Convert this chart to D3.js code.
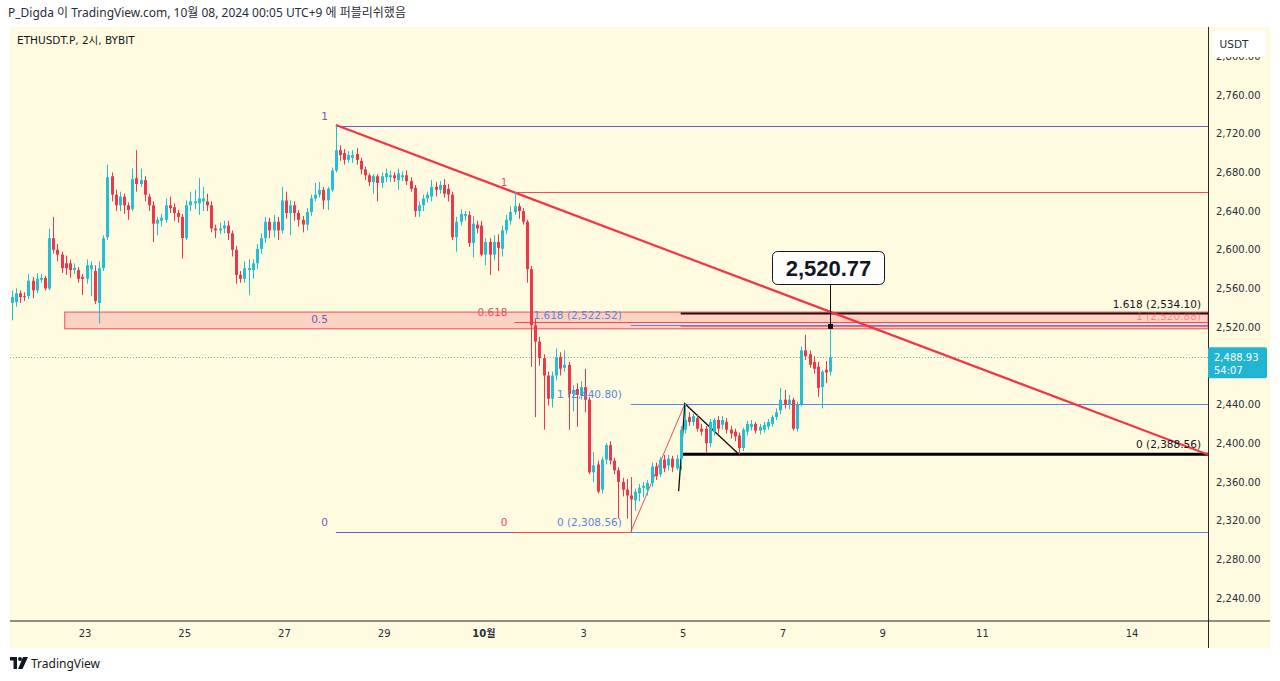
<!DOCTYPE html>
<html><head><meta charset="utf-8">
<script src="https://cdn.jsdelivr.net/npm/d3@7"></script>
<style>
body{margin:0;background:#fff;}
svg{display:block;font-family:"DejaVu Sans","Noto Sans CJK KR",sans-serif;}
</style>
</head><body>
<svg id="chart" width="1280" height="681"></svg>
<script>
// ---------- DATA (2h candles, ETHUSDT.P, times in UTC+9) ----------
const firstBar = "2024-09-21T13:00";   // time of the first visible candle
const barHours = 2;
const opens = [2545,2546,2555,2552,2552,2568,2558,2569,2571,2560,2612,2600,2595,2586,2586,2579,2579,2572,2570,2580,
2578,2545,2581,2613,2676,2657,2646,2655,2646,2642,2674,2668,2672,2655,2646,2627,2630,2631,2646,2644,
2638,2634,2612,2646,2648,2648,2650,2650,2646,2622,2620,2622,2625,2617,2600,2574,2570,2579,2579,2586,
2601,2612,2629,2620,2629,2620,2651,2638,2646,2638,2631,2626,2639,2653,2657,2662,2651,2662,2682,2703,
2700,2693,2695,2699,2692,2683,2677,2670,2676,2669,2675,2675,2677,2672,2675,2677,2671,2664,2640,2646,
2653,2655,2665,2662,2667,2663,2657,2613,2629,2635,2636,2607,2626,2625,2595,2608,2595,2608,2601,2620,
2630,2639,2645,2640,2629,2580,2522,2505,2488,2470,2446,2470,2489,2478,2481,2451,2456,2449,2458,2445,
2370,2378,2352,2383,2398,2382,2372,2360,2352,2346,2341,2348,2354,2352,2359,2376,2368,2383,2377,2384,
2374,2384,2414,2427,2422,2426,2415,2415,2400,2412,2424,2419,2422,2414,2412,2408,2395,2412,2417,2420,
2413,2414,2417,2420,2427,2434,2445,2440,2445,2415,2440,2496,2492,2484,2479,2458,2476,2474];
const highs = [2558,2560,2558,2556,2575,2572,2576,2575,2573,2622,2634,2606,2598,2594,2590,2586,2582,2575,2590,2588,
2584,2588,2615,2688,2680,2662,2660,2658,2649,2684,2703,2684,2676,2658,2650,2634,2637,2653,2655,2648,
2641,2637,2651,2660,2662,2674,2665,2658,2650,2626,2628,2630,2630,2620,2604,2578,2588,2590,2590,2606,
2617,2634,2633,2636,2634,2665,2660,2651,2650,2641,2635,2643,2657,2669,2670,2665,2665,2685,2728,2708,
2704,2702,2703,2705,2695,2686,2679,2678,2678,2680,2684,2682,2680,2684,2681,2682,2675,2667,2650,2657,
2660,2672,2670,2671,2673,2668,2660,2634,2642,2640,2640,2635,2630,2630,2612,2612,2615,2616,2625,2636,
2645,2660,2648,2643,2631,2583,2529,2510,2492,2474,2474,2498,2494,2496,2484,2460,2462,2464,2477,2448,
2391,2382,2386,2400,2402,2385,2375,2364,2363,2365,2353,2358,2360,2362,2380,2380,2386,2388,2388,2387,
2388,2418,2440.8,2432,2431,2430,2420,2418,2425,2426,2428,2428,2426,2418,2415,2411,2416,2423,2424,2422,
2420,2422,2425,2429,2436,2457,2455,2450,2447,2443,2500,2512,2496,2490,2484,2476,2485,2520.77];
const lows = [2527,2541,2545,2547,2549,2550,2555,2566,2558,2558,2596,2588,2576,2574,2571,2575,2566,2553,2565,2552,
2544,2524,2578,2610,2650,2640,2640,2637,2631,2640,2660,2665,2650,2640,2608,2615,2624,2628,2638,2630,
2628,2591,2610,2640,2642,2636,2640,2640,2618,2612,2616,2617,2610,2593,2565,2566,2566,2553,2570,2580,
2596,2607,2612,2613,2610,2617,2632,2615,2630,2624,2618,2620,2635,2650,2654,2642,2641,2660,2680,2692,
2688,2690,2690,2688,2678,2672,2666,2658,2650,2664,2670,2670,2670,2662,2671,2667,2660,2634,2634,2640,
2649,2650,2655,2658,2654,2650,2610,2598,2625,2630,2603,2592,2617,2593,2584,2574,2589,2578,2593,2616,
2626,2636,2632,2626,2566,2479,2427,2480,2414,2439,2437,2465,2470,2474,2414,2433,2417,2445,2432,2368,
2360,2348,2348,2378,2378,2368,2322,2345,2322,2308.56,2330,2340,2344,2346,2355,2362,2365,2370,2372,2370,
2372,2372,2410,2418,2418,2412,2408,2390,2396,2408,2410,2414,2410,2405,2402,2388.56,2392,2408,2413,2410,
2409,2411,2414,2417,2424,2430,2436,2435,2413,2412,2438,2486,2478,2472,2448,2436,2462,2470];
const closes = [2551,2555,2551,2551,2568,2558,2570,2571,2560,2612,2600,2595,2581,2581,2579,2581,2570,2570,2584,2584,
2547,2581,2612,2675,2657,2646,2655,2646,2641,2673,2668,2672,2657,2646,2627,2631,2633,2646,2643,2638,
2634,2612,2646,2650,2650,2653,2653,2646,2622,2620,2622,2625,2617,2600,2574,2570,2581,2581,2586,2601,
2612,2629,2620,2629,2620,2651,2638,2646,2638,2631,2626,2639,2653,2657,2662,2651,2663,2682,2703,2698,
2693,2698,2698,2693,2683,2677,2670,2676,2669,2676,2679,2677,2674,2679,2677,2671,2663,2640,2646,2653,
2657,2665,2662,2667,2658,2657,2613,2629,2637,2637,2607,2627,2622,2595,2608,2595,2608,2602,2620,2631,
2639,2645,2640,2629,2580,2522,2505,2488,2470,2446,2470,2489,2477,2481,2451,2455,2450,2458,2445,2370,
2377,2350,2383,2398,2382,2372,2360,2352,2346,2342,2350,2354,2356,2359,2376,2366,2383,2374,2384,2375,
2384,2414,2424,2422,2428,2415,2412,2400,2422,2424,2415,2424,2414,2410,2407,2395,2414,2420,2420,2413,
2417,2419,2422,2427,2432,2445,2440,2445,2415,2440,2496,2490,2481,2477,2457,2474,2473,2488.93];

// 2,480 is hidden behind the last-price tag in the reference
const priceTicks = [2240,2280,2320,2360,2400,2440,2520,2560,2600,2640,2680,2720,2760,2800];
const dayTicks = ["2024-09-23","2024-09-25","2024-09-27","2024-09-29","2024-10-01","2024-10-03","2024-10-05","2024-10-07","2024-10-09","2024-10-11","2024-10-14"];
const dayLabels = ["23","25","27","29","10월","3","5","7","9","11","14"];
const lastPrice = 2488.93;
const countdown = "54:07";
const calloutPrice = 2520.77;

const fibPurple = [["1",2728],["0.5",2518.3],["0",2308.56]];
const fibRed    = [["1",2659.7],["0.618",2525.6],["0",2308.56]];
const fibBlue   = [["1.618",2522.52],["1",2440.80],["0",2308.56]];
const fibBlack  = [["1.618",2534.10],["0",2388.56]];
const fibPink   = [["1",2520.88]];
const zoneBand  = [2535.6, 2518.3];

// ---------- SETUP ----------
const T = s => { const [d,t] = s.split("T"); const [Y,M,D]=d.split("-").map(Number); const [h,m]=(t||"00:00").split(":").map(Number); return new Date(Date.UTC(Y,M-1,D,h,m)); };
const t0 = T(firstBar);
const bars = opens.map((o,i)=>({t:new Date(t0.getTime()+i*barHours*3600e3),o,h:highs[i],l:lows[i],c:closes[i]}));
const barT = i => bars[i].t;

const plot = {l:10, r:1208, t:27, b:621};
const svg = d3.select("#chart");
const x = d3.scaleUtc().domain([T("2024-09-23"),T("2024-10-14")]).range([84.5,1131.5]);
const y = d3.scaleLinear().domain([2240,2760]).range([598,95]);

const UP="#22BFD5", DN="#F0364A", PURP="#6A5CC4", REDL="#EE4C5A", BLUE="#5A86E0";

svg.append("rect").attr("x",10).attr("y",27).attr("width",1260).attr("height",621).attr("fill","#FFFBE1");
svg.append("text").attr("x",8).attr("y",17).attr("font-size",12).attr("fill","#2a2e39")
   .attr("font-family","'Noto Sans','Noto Sans CJK KR',sans-serif")
   .text("P_Digda 이 TradingView.com, 10월 08, 2024 00:05 UTC+9 에 퍼블리쉬했음");

const defs = svg.append("defs");
defs.append("clipPath").attr("id","pc").append("rect").attr("x",plot.l).attr("y",plot.t).attr("width",plot.r-plot.l).attr("height",plot.b-plot.t);
const g = svg.append("g").attr("clip-path","url(#pc)");

// zone band
const zx0 = x(T("2024-09-22T14:30"));
g.append("rect").attr("x",zx0).attr("y",y(zoneBand[0]))
 .attr("width",plot.r-zx0).attr("height",y(zoneBand[1])-y(zoneBand[0]))
 .attr("fill","rgba(242,54,69,0.2)").attr("stroke","#EE4C5A").attr("stroke-width",1);

// last price dotted line
g.append("line").attr("x1",plot.l).attr("x2",plot.r).attr("y1",Math.round(y(lastPrice))+0.5).attr("y2",Math.round(y(lastPrice))+0.5)
 .attr("stroke","#3fb59c").attr("stroke-dasharray","1,2").attr("stroke-width",1).attr("opacity",0.8);

function fib(levels, startIdx, color, lw){
  const xs = x(barT(startIdx));
  levels.forEach(([lab,p])=>{
    const yy = Math.round(y(p))+0.5;
    g.append("line").attr("x1",xs).attr("x2",plot.r).attr("y1",yy).attr("y2",yy).attr("stroke",color).attr("stroke-width",lw);
  });
}
function fibLabels(levels, xr, color, fmt){
  levels.forEach(([lab,p])=>{
    svg.append("text").attr("x",xr).attr("y",y(p)-6).attr("text-anchor","end")
      .attr("font-size",10.5).attr("fill",color).text(fmt?`${lab} (${d3.format(",.2f")(p)})`:lab);
  });
}
fib(fibPurple.filter(d=>d[0]!=="0.5"), 78, PURP, 1);
fib(fibRed, 121, REDL, 1);
fib(fibBlue, 149, BLUE, 1);
fib(fibPink, 161, "#E8707B", 1);
g.append("line").attr("x1",x(barT(161))).attr("x2",plot.r).attr("y1",y(fibBlack[0][1])).attr("y2",y(fibBlack[0][1])).attr("stroke","#2a0a0e").attr("stroke-width",2);
g.append("line").attr("x1",x(barT(161))).attr("x2",plot.r).attr("y1",y(fibBlack[1][1])).attr("y2",y(fibBlack[1][1])).attr("stroke","#000").attr("stroke-width",3);

fibLabels(fibPurple, x(barT(78))-8, PURP, false);
fibLabels(fibRed, x(barT(121))-7, REDL, false);
fibLabels(fibBlue, x(barT(149))-9, BLUE, true);
fibLabels(fibBlack, 1201, "#131722", true);
fibLabels(fibPink, 1201, "rgba(238,76,90,0.55)", true);

g.append("line").attr("x1",x(barT(149))).attr("y1",y(2308.56)).attr("x2",x(barT(162))).attr("y2",y(2440.8)).attr("stroke","#E0505C").attr("stroke-width",1);
const A=[T("2024-10-04T22:00"),2350.5], B=[barT(162),2440.8], C=[barT(175),2388.56];
g.append("path").attr("d",`M${x(A[0])},${y(A[1])}L${x(B[0])},${y(B[1])}L${x(C[0])},${y(C[1])}`)
 .attr("fill","none").attr("stroke","#111").attr("stroke-width",1.3);

const p1=[barT(78),2729], p2=[barT(121),2659.2];
const slope=(p2[1]-p1[1])/(p2[0]-p1[0]);
const tEnd = x.invert(plot.r);
const pEnd = p1[1]+slope*(tEnd-p1[0]);
g.append("line").attr("x1",x(p1[0])).attr("y1",y(p1[1])).attr("x2",x(tEnd)).attr("y2",y(pEnd))
 .attr("stroke","#F23645").attr("stroke-width",2.2);

const cg = g.append("g");
bars.forEach(d=>{
  const cx = Math.round(x(d.t));
  const col = d.c>=d.o?UP:DN;
  cg.append("line").attr("x1",cx+0.5).attr("x2",cx+0.5).attr("y1",y(d.h)).attr("y2",y(d.l)).attr("stroke",col).attr("stroke-width",1);
  const top=y(Math.max(d.o,d.c)), bot=y(Math.min(d.o,d.c));
  cg.append("rect").attr("x",cx-1).attr("width",3).attr("y",top).attr("height",Math.max(1,bot-top)).attr("fill",col);
});

// callout
const cxL = Math.round(x(barT(197)))+0.5;
svg.append("line").attr("x1",cxL).attr("x2",cxL).attr("y1",285).attr("y2",y(calloutPrice)).attr("stroke","#111").attr("stroke-width",1);
svg.append("rect").attr("x",cxL-2.5).attr("y",y(calloutPrice)-2.5).attr("width",5).attr("height",5).attr("fill","#111");
svg.append("rect").attr("x",772.5).attr("y",251.5).attr("width",112).attr("height",33).attr("rx",5)
 .attr("fill","#fff").attr("stroke","#131722").attr("stroke-width",1);
svg.append("text").attr("x",828.5).attr("y",276).attr("text-anchor","middle").attr("font-size",22).attr("font-weight","bold")
 .attr("fill","#131722").attr("font-family","'Liberation Sans',Arial,sans-serif").text(d3.format(",.2f")(calloutPrice));

svg.append("line").attr("x1",10).attr("x2",1270).attr("y1",621).attr("y2",621).attr("stroke","#8e8e80").attr("stroke-width",2);
svg.append("line").attr("x1",1208.5).attr("x2",1208.5).attr("y1",27).attr("y2",648).attr("stroke","#2a2a2a").attr("stroke-width",1);

const yAxis = d3.axisRight(y).tickValues(priceTicks).tickSize(0).tickPadding(8).tickFormat(d3.format(",.2f"));
const ya = svg.append("g").attr("transform","translate(1208,0)").call(yAxis);
ya.select(".domain").remove();
ya.selectAll("text").attr("font-size",10).attr("fill","#2a2e39").attr("font-family","'DejaVu Sans',sans-serif");

const xAxis = d3.axisBottom(x).tickValues(dayTicks.map(T)).tickSize(0).tickPadding(9).tickFormat((d,i)=>dayLabels[i]);
const xa = svg.append("g").attr("transform","translate(0,621)").call(xAxis);
xa.select(".domain").remove();
xa.selectAll("text").attr("font-size",10).attr("fill","#2a2e39").attr("font-family","'DejaVu Sans','Noto Sans CJK KR',sans-serif")
  .attr("font-weight",(d,i)=>dayLabels[i]==="10월"?"bold":null);

// USDT box
svg.append("rect").attr("x",1212).attr("y",31).attr("width",54).attr("height",26).attr("rx",4).attr("fill","#fff");
svg.append("text").attr("x",1234).attr("y",48).attr("text-anchor","middle").attr("font-size",10.5).attr("fill","#2a2e39").text("USDT");

// price tag
const ty = y(lastPrice);
svg.append("rect").attr("x",1208).attr("y",ty-10).attr("width",59).attr("height",31).attr("rx",2).attr("fill","#22B5D1");
svg.append("text").attr("x",1214).attr("y",ty+3.5).attr("font-size",10).attr("fill","#fff").text(d3.format(",.2f")(lastPrice));
svg.append("text").attr("x",1214).attr("y",ty+16.5).attr("font-size",10).attr("fill","#fff").text(countdown);

svg.append("text").attr("x",17).attr("y",44).attr("font-size",10.5).attr("fill","#131722")
 .attr("font-family","'DejaVu Sans','Noto Sans CJK KR',sans-serif").text("ETHUSDT.P, 2시, BYBIT");

const lg = svg.append("g").attr("transform","translate(10,657)").attr("fill","#131722");
lg.append("path").attr("d","M0,0H7V12H3.5V3.5H0Z");
lg.append("circle").attr("cx",10).attr("cy",2).attr("r",2);
lg.append("path").attr("d","M13,0H18L12.5,12H8Z");
svg.append("text").attr("x",31).attr("y",668).attr("font-size",12).attr("fill","#131722")
 .attr("font-family","'Noto Sans',sans-serif").text("TradingView");
</script>
</body></html>
